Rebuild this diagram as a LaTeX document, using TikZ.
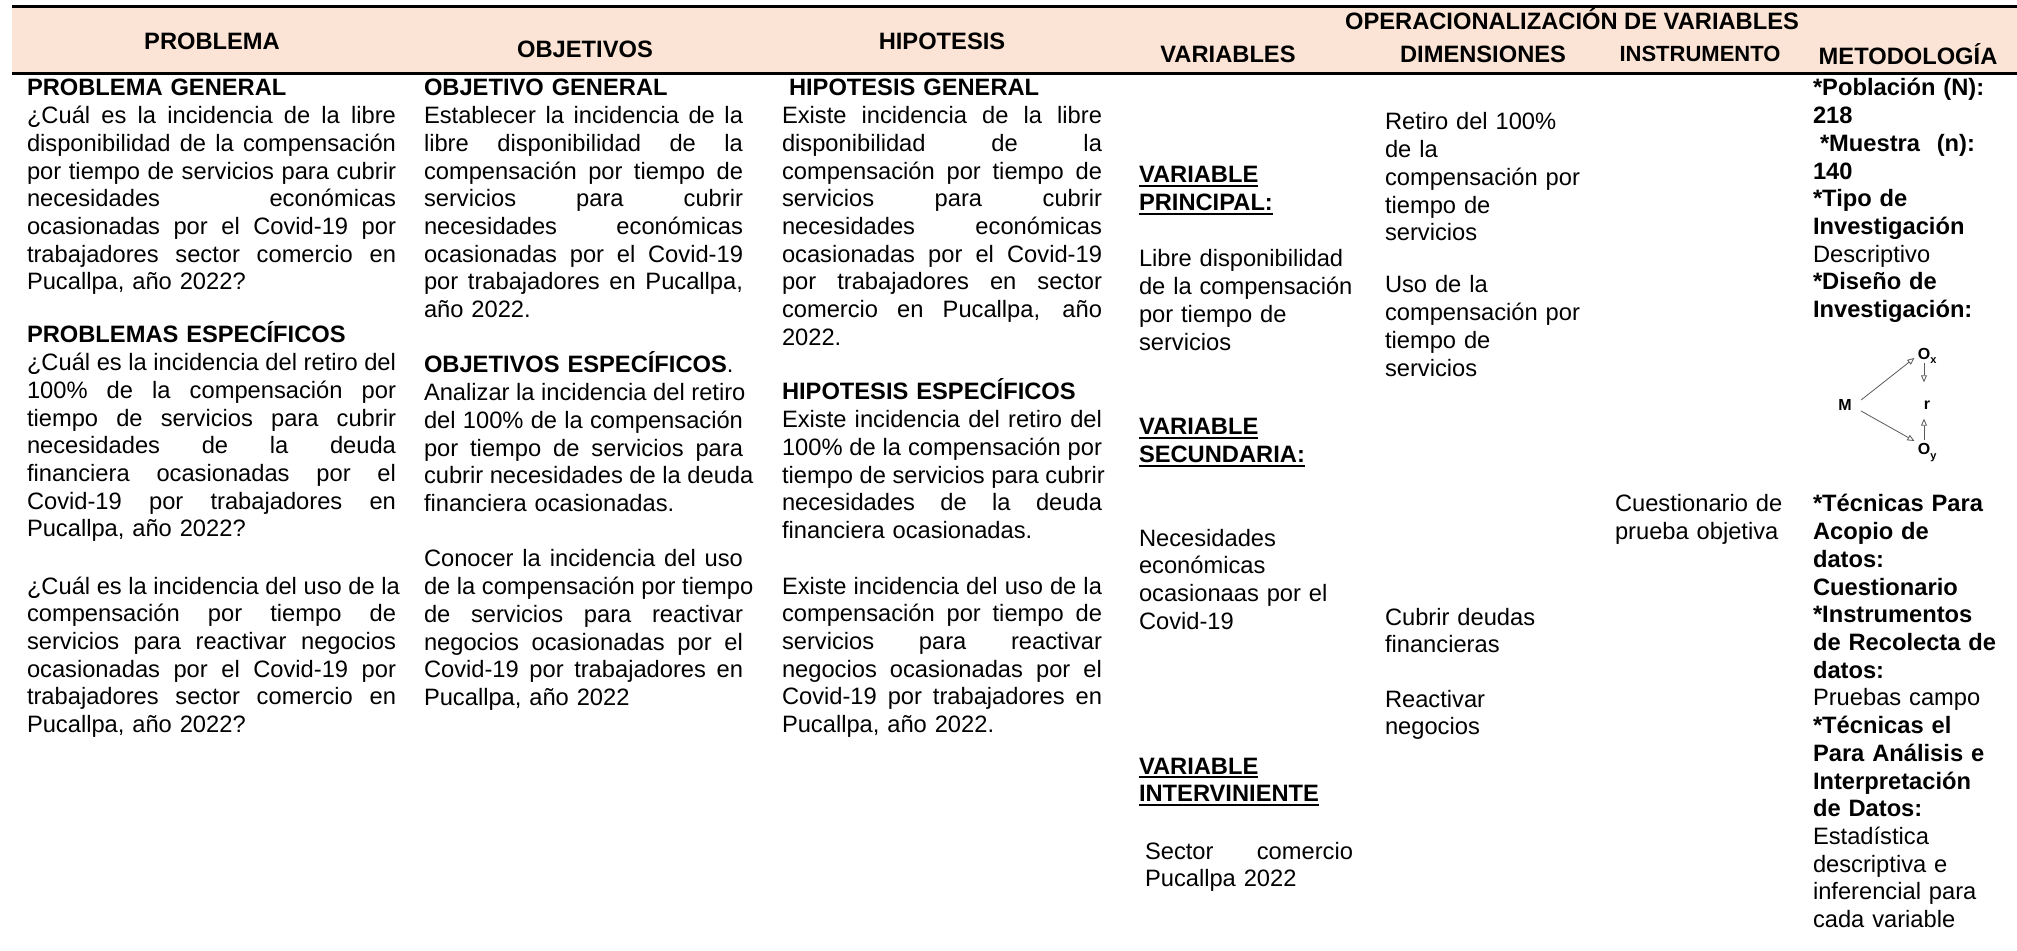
\documentclass[tikz,border=0pt]{standalone}
\usepackage{fontspec}
\setmainfont{Liberation Sans}
\usepackage{graphicx}
\usetikzlibrary{arrows.meta}
\setlength\parindent{0pt}
\definecolor{hdrfill}{HTML}{FBE4D5}
\newlength\cw
\newcommand\J[1]{\makebox[\cw][s]{\spaceskip=\fontdimen2\font plus 1fil\relax #1}}
\newcommand\tst{\rule{0pt}{12pt}}
\newsavebox\ulbbox
\newcommand\ulb[1]{\leavevmode\sbox\ulbbox{\bfseries #1}\rlap{\rule[-2pt]{\wd\ulbbox}{1pt}}\usebox\ulbbox}
\begin{document}
\begin{tikzpicture}[x=0.5pt,y=-0.5pt,
  blk/.style={anchor=north west, inner sep=0pt, outer sep=0pt, align=left,
    font=\fontsize{11.85pt}{13.85pt}\selectfont},
  cA/.style={blk, text width=184.5pt, execute at begin node={\setlength\cw{184.5pt}}},
  cB/.style={blk, text width=159.5pt, execute at begin node={\setlength\cw{159.5pt}}},
  cC/.style={blk, text width=160pt, execute at begin node={\setlength\cw{160pt}}},
  cN/.style={blk, text width=115pt},
  hdr/.style={inner sep=0pt, font=\fontsize{11.85pt}{13.85pt}\selectfont\bfseries},
  dn/.style={inner sep=1.5pt, font=\fontsize{8pt}{9pt}\selectfont\bfseries},
  arr/.style={draw=black!65, line width=0.4pt, -{Triangle[open,length=3.5pt,width=3pt]}}]
\useasboundingbox (0,0) rectangle (2017,951);
% header band
\fill[hdrfill] (12,6.5) rectangle (2017,73.5);
\draw[line width=1.25pt] (12,6.5) -- (2017,6.5);
\draw[line width=1.5pt] (12,73.5) -- (2017,73.5);
\node[hdr] (hP) at (212,41) {PROBLEMA};
\node[hdr] (hO) at (585,49) {OBJETIVOS};
\node[hdr] (hH) at (942,41) {HIPOTESIS};
\node[hdr] (hOP) at (1572,19) {OPERACIONALIZACIÓN DE VARIABLES};
\node[hdr] (hV) at (1228,54) {VARIABLES};
\node[hdr] (hD) at (1483,54) {DIMENSIONES};
\node[hdr, font=\fontsize{11pt}{12pt}\selectfont\bfseries] (hI) at (1700,54) {INSTRUMENTO};
\node[hdr] (hM) at (1908,54) {METODOLOGÍA};
% column 1
\node[cA] (p1) at (27,72) {\tst\textbf{PROBLEMA GENERAL}\\
\J{¿Cuál es la incidencia de la libre}\\
\J{disponibilidad de la compensación}\\
\J{por tiempo de servicios para cubrir}\\
\J{necesidades económicas}\\
\J{ocasionadas por el Covid-19 por}\\
\J{trabajadores sector comercio en}\\
Pucallpa, año 2022?};
\node[cA] (p2) at (27,319) {\tst\textbf{PROBLEMAS ESPECÍFICOS}\\
\J{¿Cuál es la incidencia del retiro del}\\
\J{100\% de la compensación por}\\
\J{tiempo de servicios para cubrir}\\
\J{necesidades de la deuda}\\
\J{financiera ocasionadas por el}\\
\J{Covid-19 por trabajadores en}\\
Pucallpa, año 2022?};
\node[cA] (p3) at (27,570) {\tst\J{¿Cuál es la incidencia del uso de la}\\
\J{compensación por tiempo de}\\
\J{servicios para reactivar negocios}\\
\J{ocasionadas por el Covid-19 por}\\
\J{trabajadores sector comercio en}\\
Pucallpa, año 2022?};
% column 2
\node[cB] (o1) at (424,72) {\tst\textbf{OBJETIVO GENERAL}\\
\J{Establecer la incidencia de la}\\
\J{libre disponibilidad de la}\\
\J{compensación por tiempo de}\\
\J{servicios para cubrir}\\
\J{necesidades económicas}\\
\J{ocasionadas por el Covid-19}\\
\J{por trabajadores en Pucallpa,}\\
año 2022.};
\node[cB] (o2) at (424,349) {\tst\textbf{OBJETIVOS ESPECÍFICOS}.\\
\J{Analizar la incidencia del retiro}\\
\J{del 100\% de la compensación}\\
\J{por tiempo de servicios para}\\
\J{cubrir necesidades de la deuda}\\
financiera ocasionadas.};
\node[cB] (o3) at (424,543) {\tst\J{Conocer la incidencia del uso}\\
\J{de la compensación por tiempo}\\
\J{de servicios para reactivar}\\
\J{negocios ocasionadas por el}\\
\J{Covid-19 por trabajadores en}\\
Pucallpa, año 2022};
% column 3
\node[cC] (h1) at (782,72) {\tst\hspace*{3.5pt}\textbf{HIPOTESIS GENERAL}\\
\J{Existe incidencia de la libre}\\
\J{disponibilidad de la}\\
\J{compensación por tiempo de}\\
\J{servicios para cubrir}\\
\J{necesidades económicas}\\
\J{ocasionadas por el Covid-19}\\
\J{por trabajadores en sector}\\
\J{comercio en Pucallpa, año}\\
2022.};
\node[cC] (h2) at (782,376) {\tst\textbf{HIPOTESIS ESPECÍFICOS}\\
\J{Existe incidencia del retiro del}\\
\J{100\% de la compensación por}\\
\J{tiempo de servicios para cubrir}\\
\J{necesidades de la deuda}\\
financiera ocasionadas.};
\node[cC] (h3) at (782,570) {\tst\J{Existe incidencia del uso de la}\\
\J{compensación por tiempo de}\\
\J{servicios para reactivar}\\
\J{negocios ocasionadas por el}\\
\J{Covid-19 por trabajadores en}\\
Pucallpa, año 2022.};
% column 4
\node[cN] (v1) at (1139,159) {\tst\ulb{VARIABLE}\\ \ulb{PRINCIPAL:}};
\node[cN] (v1t) at (1139,243) {\tst Libre disponibilidad\\ de la compensación\\ por tiempo de\\ servicios};
\node[cN] (v2) at (1139,411) {\tst\ulb{VARIABLE}\\ \ulb{SECUNDARIA:}};
\node[cN] (v2t) at (1139,522) {\tst Necesidades\\ económicas\\ ocasionaas por el\\ Covid-19};
\node[cN] (v3) at (1139,750) {\tst\ulb{VARIABLE}\\ \ulb{INTERVINIENTE}};
\node[blk, text width=104pt, execute at begin node={\setlength\cw{104pt}}] (v3t) at (1145,835) {\tst\J{Sector comercio}\\ Pucallpa 2022};
% column 5
\node[cN] (d1) at (1385,106) {\tst Retiro del 100\%\\ de la\\ compensación por\\ tiempo de\\ servicios};
\node[cN] (d2) at (1385,269) {\tst Uso de la\\ compensación por\\ tiempo de\\ servicios};
\node[cN] (d3) at (1385,601) {\tst Cubrir deudas\\ financieras};
\node[cN] (d4) at (1385,683) {\tst Reactivar\\ negocios};
% column 6
\node[blk, text width=100pt] (i1) at (1615,488) {\tst Cuestionario de\\ prueba objetiva};
% column 7
\node[blk, text width=100pt] (m1) at (1813,72) {\tst\textbf{*Población (N):}\\
\textbf{218}\\
\hspace*{3.5pt}\textbf{*Muestra}\hspace{8.3pt}\textbf{(n):}\\
\textbf{140}\\
\textbf{*Tipo de}\\
\textbf{Investigación}\\
Descriptivo\\
\textbf{*Diseño de}\\
\textbf{Investigación:}};
\node[blk, text width=100pt] (m2) at (1813,488) {\tst\textbf{*Técnicas Para}\\
\textbf{Acopio de}\\
\textbf{datos:}\\
\textbf{Cuestionario}\\
\textbf{*Instrumentos}\\
\textbf{de Recolecta de}\\
\textbf{datos:}\\
Pruebas campo\\
\textbf{*Técnicas el}\\
\textbf{Para Análisis e}\\
\textbf{Interpretación}\\
\textbf{de Datos:}\\
Estadística\\
descriptiva e\\
inferencial para\\
cada variable};
% design diagram
\node[dn] (M) at (1845,405) {M};
\node[dn] (Ox) at (1924,354) {O\rlap{\smash{\raisebox{-2pt}{\fontsize{5.5pt}{6pt}\selectfont x}}}};
\node[dn] (r) at (1927,405) {r};
\node[dn] (Oy) at (1924,449) {O\rlap{\smash{\raisebox{-2.5pt}{\fontsize{5.5pt}{6pt}\selectfont y}}}};
\draw[arr] ([shift={(3pt,2.5pt)}]M.east) -- ([yshift=-2pt]Ox.west);
\draw[arr] ([shift={(3pt,-3pt)}]M.east) -- ([yshift=4pt]Oy.west);
\draw[arr, shorten >=7.5pt] (Ox.south) -- (Ox.south |- r.north);
\draw[arr, shorten >=3pt] (Oy.north) -- (Oy.north |- r.south);
\end{tikzpicture}
\end{document}
